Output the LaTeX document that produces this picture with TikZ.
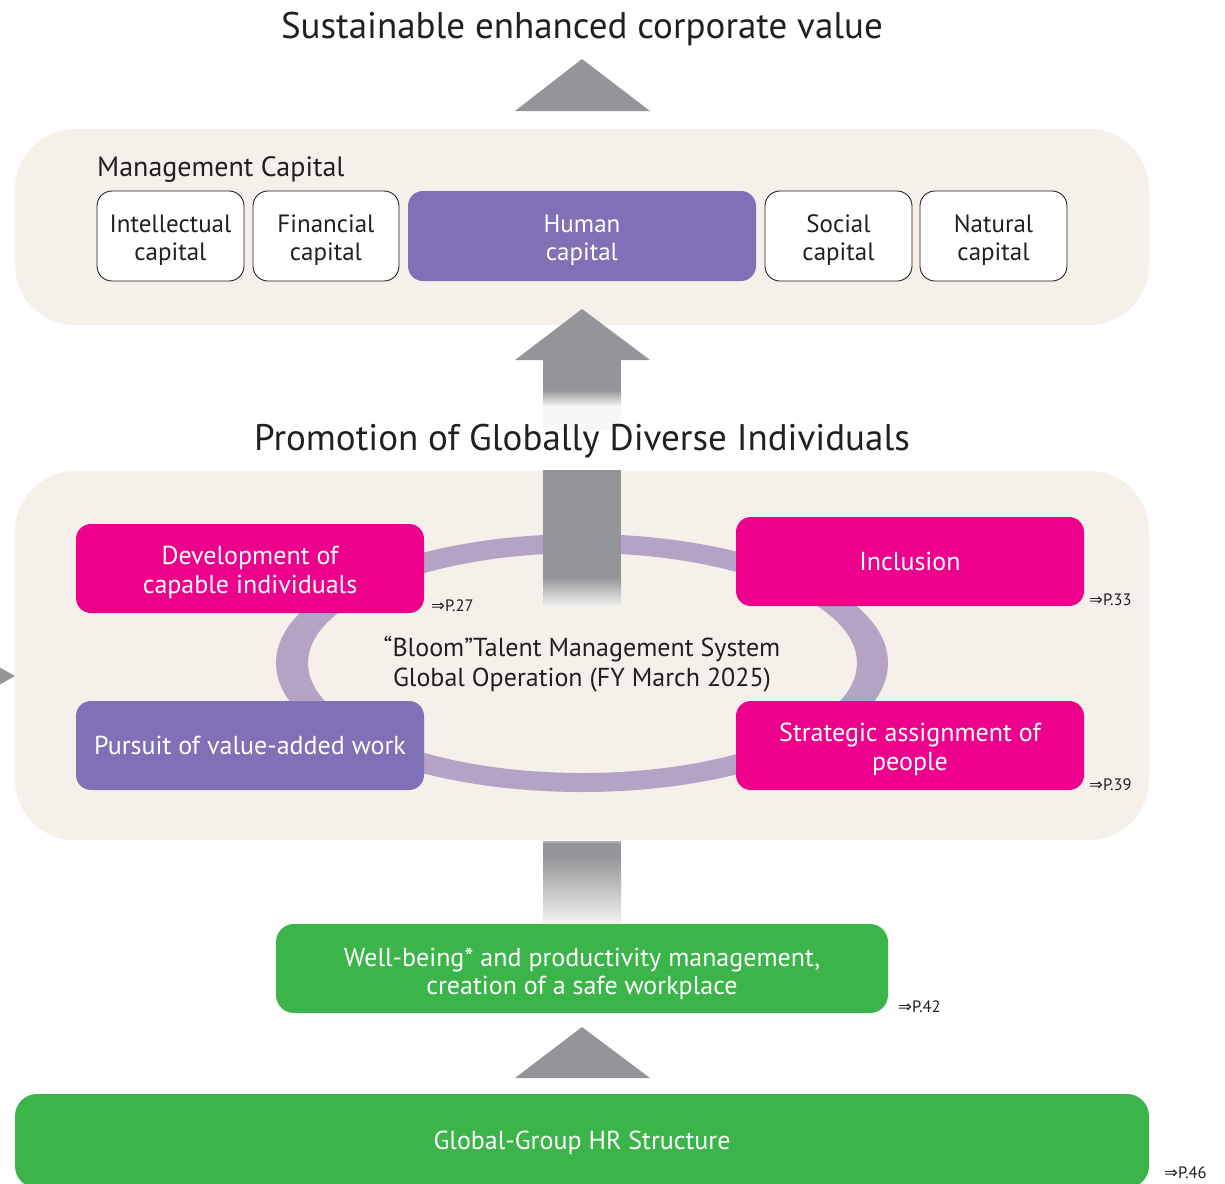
\documentclass[tikz,border=0pt]{standalone}
\usepackage{fontspec}
\setmainfont{PT Sans}
\newfontfamily\symf{DejaVu Sans}
\definecolor{beige}{HTML}{F5F0EA}
\definecolor{agray}{HTML}{939598}
\definecolor{lgray}{HTML}{F4F4F2}
\definecolor{purp}{HTML}{8071B6}
\definecolor{pinkc}{HTML}{EC008C}
\definecolor{greenc}{HTML}{3BB54A}
\definecolor{ringc}{HTML}{B4A3C4}
\definecolor{txt}{HTML}{231F20}
\newcommand{\twol}[3]{\raisebox{#1}[\height][\depth]{\begin{tabular}{@{}c@{}}#2\\#3\end{tabular}}}
\tikzset{
  panel/.style={fill=beige, rounded corners=60pt},
  capbox/.style={draw=txt, line width=0.9pt, fill=white, rounded corners=15pt, align=center, text=txt, font=\fontsize{25}{28}\selectfont, minimum height=90pt, inner sep=0pt},
  hcap/.style={fill=purp, rounded corners=15pt, align=center, text=white, font=\fontsize{25}{28}\selectfont, minimum height=90pt, inner sep=0pt},
  pinkbox/.style={fill=pinkc, rounded corners=15pt, align=center, text=white, font=\fontsize{26}{29}\selectfont, minimum width=348pt, minimum height=89pt, inner sep=0pt},
  purpbox/.style={pinkbox, fill=purp},
  greenbox/.style={fill=greenc, rounded corners=18pt, align=center, text=white, font=\fontsize{26}{28}\selectfont, inner sep=0pt},
  ref/.style={anchor=west, text=txt, font=\fontsize{16.5}{18}\selectfont, inner sep=0pt},
  headtxt/.style={text=txt, font=\fontsize{37}{42}\selectfont, inner sep=0pt}
}
\begin{document}
\begin{tikzpicture}[x=1pt,y=-1pt]
\useasboundingbox (0,0) rectangle (1225,1183);
\fill[white] (0,0) rectangle (1225,1183);
% title
\fill[agray] (515,111) -- (582,59) -- (650,111) -- cycle;
\node[headtxt] (title) at (582,29) {Sustainable enhanced corporate value};
% management capital panel
\fill[panel] (15,129) rectangle (1149,325);
\node[anchor=west, text=txt, font=\fontsize{28}{32}\selectfont, inner sep=0pt] (mc) at (97,169) {Management Capital};
\node[capbox, minimum width=147pt] (intel) at (170.5,236) {\twol{-5pt}{Intellectual}{capital}};
\node[capbox, minimum width=146pt] (fin) at (326,236) {\twol{-5pt}{Financial}{capital}};
\node[hcap, minimum width=348pt] (hum) at (582,236) {\twol{-5pt}{Human}{capital}};
\node[capbox, minimum width=147pt] (soc) at (838.5,236) {\twol{-5pt}{Social}{capital}};
\node[capbox, minimum width=147pt] (nat) at (993.5,236) {\twol{-5pt}{Natural}{capital}};
% middle arrow
\fill[agray] (515,360) -- (582,309) -- (650,360) -- cycle;
\fill[agray] (543,359) rectangle (621,391);
\shade[top color=agray, bottom color=lgray] (543,390) rectangle (621,406);
\fill[lgray!70!white] (543,405.5) rectangle (621,430);
\node[headtxt] (promo) at (582,441) {Promotion of Globally Diverse Individuals};
% second panel
\fill[panel] (15,471) rectangle (1149,840);
\fill[agray] (-10,662) -- (15,676) -- (-10,690) -- cycle;
\fill[ringc, even odd rule] (582,663) ellipse [x radius=306pt, y radius=129pt] (582.5,663) ellipse [x radius=274.5pt, y radius=110pt];
\fill[agray] (543,470) rectangle (621,578);
\shade[top color=agray, bottom color=lgray] (543,577) rectangle (621,607);
\node[pinkbox] (dev) at (250,568.5) {\twol{-5pt}{Development of}{capable individuals}};
\node[pinkbox] (incl) at (910,561.5) {Inclusion};
\node[purpbox] (pur) at (250,745.5) {Pursuit of value-added work};
\node[pinkbox] (strat) at (910,745.5) {\twol{-5pt}{Strategic assignment of}{people}};
\node[align=center, text=txt, font=\fontsize{26}{30}\selectfont, inner sep=0pt] (bloom) at (582,664) {“Bloom”Talent Management System\\Global Operation (FY March 2025)};
\node[ref] (r27) at (431,606) {{\symf ⇒}P.27};
\node[ref] (r33) at (1089,600) {{\symf ⇒}P.33};
\node[ref] (r39) at (1089,785) {{\symf ⇒}P.39};
% lower shaft
\fill[agray!75!white] (543,841) rectangle (621,843);
\fill[agray] (543,842.5) rectangle (621,857);
\shade[top color=agray, bottom color=lgray] (543,856.5) rectangle (621,924);
\node[greenbox, minimum width=612pt, minimum height=89pt] (well) at (582,968.5) {\twol{-6pt}{Well-being* and productivity management,}{creation of a safe workplace}};
\node[ref] (r42) at (898,1007) {{\symf ⇒}P.42};
\fill[agray] (515,1078) -- (582,1027) -- (650,1078) -- cycle;
\fill[greenc, rounded corners=22pt] (15,1094) rectangle (1149,1188);
\node[text=white, font=\fontsize{26}{28}\selectfont, inner sep=0pt] (hr) at (582,1143) {Global-Group HR Structure};
\node[ref] (r46) at (1164,1173) {{\symf ⇒}P.46};
\end{tikzpicture}
\end{document}
